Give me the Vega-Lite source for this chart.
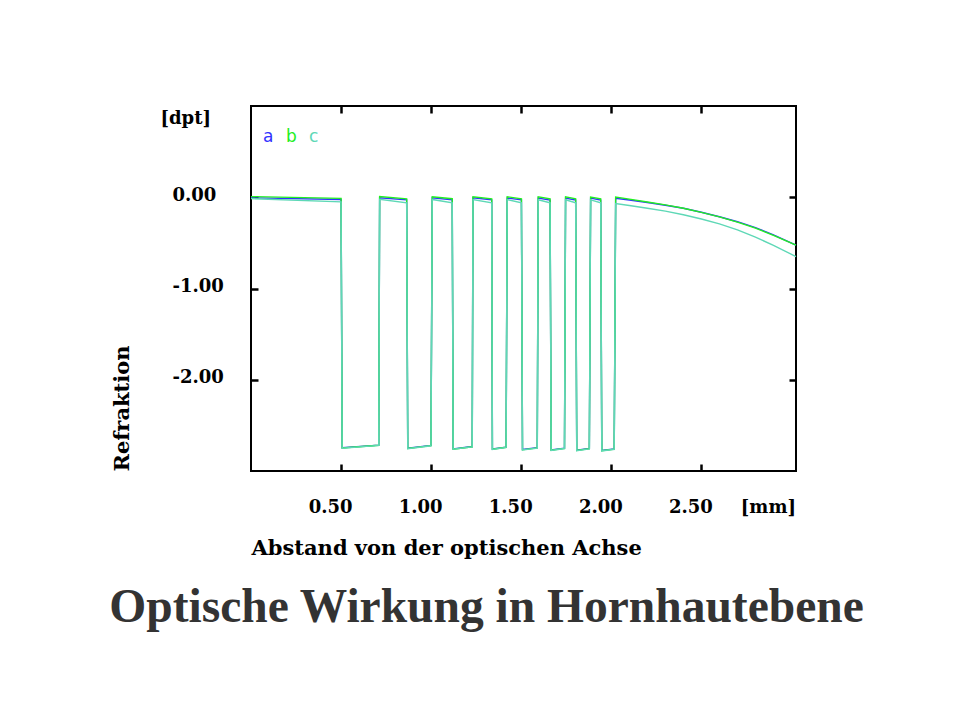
{
  "$schema": "https://vega.github.io/schema/vega-lite/v6.json",
  "autosize": {"type": "none"},
  "width": 545,
  "height": 365,
  "padding": {"left": 251, "top": 106, "right": 164, "bottom": 250},
  "background": "white",
  "config": {
    "view": {"stroke": "black", "strokeWidth": 2},
    "font": "DejaVu Serif",
    "axis": {"grid": false, "domain": false, "tickColor": "black", "tickWidth": 2.5, "tickSize": -7,
             "labelFont": "DejaVu Serif", "labelFontWeight": "bold", "labelFontSize": 18, "labelColor": "black",
             "titleFont": "DejaVu Serif", "titleFontWeight": "bold", "titleFontSize": 21, "titleColor": "black"}
  },
  "title": {"text": "Optische Wirkung in Hornhautebene", "orient": "bottom", "anchor": "middle", "frame": "group",
            "dx": -37, "offset": 26, "font": "Liberation Serif", "fontSize": 47.5, "fontWeight": "bold", "color": "#333333"},
  "data": {"values": [
    {"s":"a","x":0.000,"y":-0.006},{"s":"a","x":0.500,"y":-0.024},{"s":"a","x":0.506,"y":-2.745},{"s":"a","x":0.709,"y":-2.716},
    {"s":"a","x":0.714,"y":-0.005},{"s":"a","x":0.864,"y":-0.028},{"s":"a","x":0.870,"y":-2.750},{"s":"a","x":0.999,"y":-2.720},
    {"s":"a","x":1.006,"y":-0.006},{"s":"a","x":1.117,"y":-0.028},{"s":"a","x":1.122,"y":-2.757},{"s":"a","x":1.228,"y":-2.732},
    {"s":"a","x":1.232,"y":-0.007},{"s":"a","x":1.336,"y":-0.029},{"s":"a","x":1.340,"y":-2.758},{"s":"a","x":1.416,"y":-2.738},
    {"s":"a","x":1.422,"y":-0.008},{"s":"a","x":1.501,"y":-0.029},{"s":"a","x":1.507,"y":-2.764},{"s":"a","x":1.589,"y":-2.745},
    {"s":"a","x":1.594,"y":-0.009},{"s":"a","x":1.660,"y":-0.030},{"s":"a","x":1.666,"y":-2.768},{"s":"a","x":1.740,"y":-2.749},
    {"s":"a","x":1.746,"y":-0.009},{"s":"a","x":1.802,"y":-0.031},{"s":"a","x":1.808,"y":-2.771},{"s":"a","x":1.878,"y":-2.753},
    {"s":"a","x":1.885,"y":-0.010},{"s":"a","x":1.941,"y":-0.031},{"s":"a","x":1.947,"y":-2.774},{"s":"a","x":2.016,"y":-2.757},
    {"s":"a","x":2.024,"y":-0.012},{"s":"a","x":2.10,"y":-0.030},{"s":"a","x":2.20,"y":-0.058},{"s":"a","x":2.30,"y":-0.087},
    {"s":"a","x":2.40,"y":-0.120},{"s":"a","x":2.50,"y":-0.165},{"s":"a","x":2.60,"y":-0.214},{"s":"a","x":2.70,"y":-0.268},
    {"s":"a","x":2.80,"y":-0.333},{"s":"a","x":2.90,"y":-0.412},{"s":"a","x":3.025,"y":-0.525},

    {"s":"b","x":0.000,"y":0.007},{"s":"b","x":0.500,"y":-0.012},{"s":"b","x":0.506,"y":-2.748},{"s":"b","x":0.709,"y":-2.718},
    {"s":"b","x":0.714,"y":0.007},{"s":"b","x":0.864,"y":-0.018},{"s":"b","x":0.870,"y":-2.754},{"s":"b","x":0.999,"y":-2.722},
    {"s":"b","x":1.006,"y":0.006},{"s":"b","x":1.117,"y":-0.016},{"s":"b","x":1.122,"y":-2.760},{"s":"b","x":1.228,"y":-2.735},
    {"s":"b","x":1.232,"y":0.006},{"s":"b","x":1.336,"y":-0.017},{"s":"b","x":1.340,"y":-2.762},{"s":"b","x":1.416,"y":-2.740},
    {"s":"b","x":1.422,"y":0.005},{"s":"b","x":1.501,"y":-0.017},{"s":"b","x":1.507,"y":-2.768},{"s":"b","x":1.589,"y":-2.748},
    {"s":"b","x":1.594,"y":0.004},{"s":"b","x":1.660,"y":-0.017},{"s":"b","x":1.666,"y":-2.772},{"s":"b","x":1.740,"y":-2.752},
    {"s":"b","x":1.746,"y":0.004},{"s":"b","x":1.802,"y":-0.018},{"s":"b","x":1.808,"y":-2.775},{"s":"b","x":1.878,"y":-2.756},
    {"s":"b","x":1.885,"y":0.003},{"s":"b","x":1.941,"y":-0.018},{"s":"b","x":1.947,"y":-2.778},{"s":"b","x":2.016,"y":-2.760},
    {"s":"b","x":2.024,"y":0.002},{"s":"b","x":2.10,"y":-0.020},{"s":"b","x":2.20,"y":-0.052},{"s":"b","x":2.30,"y":-0.084},
    {"s":"b","x":2.40,"y":-0.120},{"s":"b","x":2.50,"y":-0.165},{"s":"b","x":2.60,"y":-0.215},{"s":"b","x":2.70,"y":-0.272},
    {"s":"b","x":2.80,"y":-0.338},{"s":"b","x":2.90,"y":-0.418},{"s":"b","x":3.025,"y":-0.525},

    {"s":"c","x":0.000,"y":-0.015},{"s":"c","x":0.500,"y":-0.050},{"s":"c","x":0.506,"y":-2.750},{"s":"c","x":0.709,"y":-2.720},
    {"s":"c","x":0.714,"y":-0.022},{"s":"c","x":0.864,"y":-0.062},{"s":"c","x":0.870,"y":-2.756},{"s":"c","x":0.999,"y":-2.724},
    {"s":"c","x":1.006,"y":-0.024},{"s":"c","x":1.117,"y":-0.060},{"s":"c","x":1.122,"y":-2.762},{"s":"c","x":1.228,"y":-2.737},
    {"s":"c","x":1.232,"y":-0.025},{"s":"c","x":1.336,"y":-0.060},{"s":"c","x":1.340,"y":-2.764},{"s":"c","x":1.416,"y":-2.742},
    {"s":"c","x":1.422,"y":-0.026},{"s":"c","x":1.501,"y":-0.060},{"s":"c","x":1.507,"y":-2.770},{"s":"c","x":1.589,"y":-2.750},
    {"s":"c","x":1.594,"y":-0.027},{"s":"c","x":1.660,"y":-0.060},{"s":"c","x":1.666,"y":-2.774},{"s":"c","x":1.740,"y":-2.754},
    {"s":"c","x":1.746,"y":-0.028},{"s":"c","x":1.802,"y":-0.060},{"s":"c","x":1.808,"y":-2.777},{"s":"c","x":1.878,"y":-2.758},
    {"s":"c","x":1.885,"y":-0.029},{"s":"c","x":1.941,"y":-0.060},{"s":"c","x":1.947,"y":-2.780},{"s":"c","x":2.016,"y":-2.762},
    {"s":"c","x":2.024,"y":-0.070},{"s":"c","x":2.10,"y":-0.090},{"s":"c","x":2.20,"y":-0.120},{"s":"c","x":2.30,"y":-0.152},
    {"s":"c","x":2.40,"y":-0.192},{"s":"c","x":2.50,"y":-0.238},{"s":"c","x":2.60,"y":-0.292},{"s":"c","x":2.70,"y":-0.358},
    {"s":"c","x":2.80,"y":-0.437},{"s":"c","x":2.90,"y":-0.527},{"s":"c","x":3.025,"y":-0.650}
  ]},
  "resolve": {"axis": {"x": "independent", "y": "independent"}},
  "layer": [
    {
      "mark": {"type": "line", "strokeWidth": 1.4, "interpolate": "linear"},
      "encoding": {
        "x": {"field": "x", "type": "quantitative", "scale": {"domain": [0, 3.025], "nice": false, "zero": false},
              "axis": {"orient": "bottom", "values": [0.5, 1, 1.5, 2, 2.5, 2.93],
                       "labelExpr": "datum.value > 2.9 ? '[mm]' : format(datum.value, '.2f')",
                       "labelAlign": "center", "labelOffset": -11, "labelPadding": 34,
                       "tickOpacity": {"condition": {"test": "datum.value > 2.9", "value": 0}, "value": 1},
                       "title": "Abstand von der optischen Achse", "titleAnchor": "start", "titleAlign": "left", "titlePadding": 21}},
        "y": {"field": "y", "type": "quantitative", "scale": {"domain": [-3, 1], "nice": false, "zero": false},
              "axis": {"orient": "left", "values": [0, -1, -2, 0.84],
                       "labelExpr": "datum.value > 0.5 ? '[dpt]' : datum.value == 0 ? '0.00' : datum.value == -1 ? '-1.00' : '-2.00'",
                       "labelAlign": "left", "labelBaseline": "middle", "labelOffset": -2,
                       "labelPadding": {"condition": {"test": "datum.value > 0.5", "value": 98}, "value": 86},
                       "tickOpacity": {"condition": {"test": "datum.value > 0.5", "value": 0}, "value": 1},
                       "title": "Refraktion", "titleAnchor": "start", "titlePadding": 28}},
        "color": {"field": "s", "type": "nominal",
                  "scale": {"domain": ["a", "b", "c"], "range": ["#3232ff", "#22ee22", "#5ed8b6"]},
                  "legend": {"title": null, "orient": "none", "legendX": 3, "legendY": 22, "direction": "horizontal",
                             "symbolType": "circle", "symbolSize": 0, "symbolOpacity": 0, "symbolStrokeWidth": 0,
                             "labelOffset": -8, "columnPadding": 3,
                             "labelFont": "DejaVu Sans", "labelFontSize": 17, "labelFontWeight": "normal",
                             "encode": {"labels": {"update": {"fill": {"scale": "color", "field": "value"}}}}}}
      }
    },
    {
      "mark": {"type": "point", "opacity": 0, "size": 0},
      "encoding": {
        "x": {"field": "x", "type": "quantitative",
              "axis": {"orient": "top", "values": [0.5, 1, 1.5, 2, 2.5], "labels": false, "title": null}},
        "y": {"field": "y", "type": "quantitative",
              "axis": {"orient": "right", "values": [0, -1, -2], "labels": false, "title": null}}
      }
    }
  ]
}
